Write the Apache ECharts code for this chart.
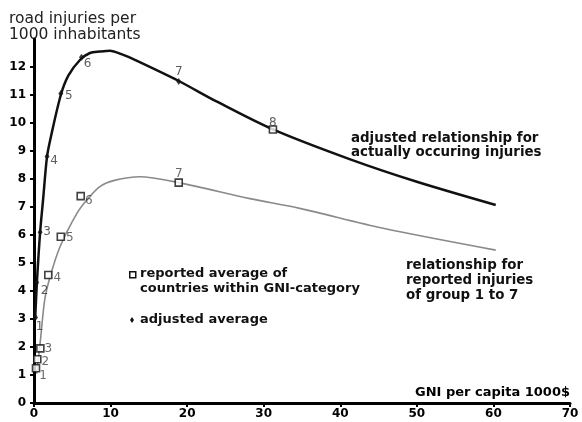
<!DOCTYPE html>
<html>
<head>
<meta charset="utf-8">
<script src="https://cdn.jsdelivr.net/npm/echarts@6/dist/echarts.min.js"></script>
<style>
  html, body { margin: 0; padding: 0; background: #fff; }
  #chart { width: 582px; height: 422px; }
</style>
</head>
<body>
<div id="chart"></div>
<script>
// group averages (GNI per capita in 1000$, injuries per 1000)
const adjustedGNI = [0.2, 0.35, 0.8, 1.7, 3.5, 6.2, 18.9, 31.2];
const adjustedInjuries = [3.05, 4.3, 6.1, 8.8, 11.05, 12.35, 11.48, 9.77];
const adjustedGroups = ['1', '2', '3', '4', '5', '6', '7', '8'];

const reportedGNI = [0.26, 0.43, 0.83, 1.87, 3.5, 6.1, 18.9];
const reportedInjuries = [1.24, 1.56, 1.95, 4.57, 5.94, 7.39, 7.87];
const reportedGroups = ['1', '2', '3', '4', '5', '6', '7'];

// fitted relationships
const adjustedCurveX = [0.15, 0.4, 0.8, 1.2, 1.7, 2.2, 3.5, 4.5, 6, 7.3, 8.6, 9.9, 11.5, 13.6, 18.9, 23.9, 31.2, 41.3, 50, 60.3];
const adjustedCurveY = [3.0, 4.4, 6.1, 7.3, 8.8, 9.5, 11.0, 11.7, 12.25, 12.5, 12.55, 12.58, 12.45, 12.2, 11.5, 10.76, 9.77, 8.7, 7.9, 7.07];
const reportedCurveX = [0.35, 0.8, 1.4, 2.1, 3.4, 5.6, 6.9, 8.6, 10.5, 13.8, 18.9, 28.2, 34.7, 45.6, 60.3];
const reportedCurveY = [1.05, 2.14, 3.68, 4.51, 5.58, 6.77, 7.25, 7.73, 7.95, 8.08, 7.87, 7.3, 6.95, 6.24, 5.46];

const xTicks = [0, 10, 20, 30, 40, 50, 60, 70];
const yTicks = [0, 1, 2, 3, 4, 5, 6, 7, 8, 9, 10, 11, 12];

// where each group number sits next to its marker
const adjustedLabelOffset = [[4, 9], [8, 8], [7, 0], [7, 4], [8, 2], [6, 7], [0, -10], [0, -7]];
const reportedLabelOffset = [[7, 8], [8, 3], [8, 0], [9, 3], [9, 1], [8, 5], [0, -9]];

const FONT = '"DejaVu Sans", sans-serif';

const pair = (xs, ys) => xs.map((x, i) => [x, ys[i]]);

const pointLabel = (offset, color) => ({
  show: true,
  position: 'inside',
  offset: offset,
  color: color,
  fontFamily: FONT,
  fontSize: 12,
  align: 'center',
  verticalAlign: 'middle'
});

const chart = echarts.init(document.getElementById('chart'), null, { renderer: 'canvas' });

const option = {
  animation: false,
  backgroundColor: '#fff',
  grid: { left: 34, right: 12, top: 39, bottom: 19, containLabel: false },
  xAxis: {
    type: 'value',
    min: 0,
    max: 70,
    interval: 10,
    axisLine: { show: true, lineStyle: { color: '#000', width: 3 } },
    axisTick: { show: true, length: 4, lineStyle: { color: '#000', width: 2 }, customValues: xTicks },
    axisLabel: { color: '#000', fontFamily: FONT, fontWeight: 'bold', fontSize: 12, margin: 5, customValues: xTicks },
    splitLine: { show: false }
  },
  yAxis: {
    type: 'value',
    min: 0,
    max: 13,
    interval: 1,
    axisLine: { show: true, lineStyle: { color: '#000', width: 3 } },
    axisTick: { show: true, length: 4, lineStyle: { color: '#000', width: 2 }, customValues: yTicks },
    axisLabel: { color: '#000', fontFamily: FONT, fontWeight: 'bold', fontSize: 12, margin: 8, customValues: yTicks },
    splitLine: { show: false }
  },
  series: [
    {
      type: 'line',
      data: pair(reportedCurveX, reportedCurveY),
      smooth: 0.3,
      showSymbol: false,
      lineStyle: { color: '#8a8a8a', width: 1.6 },
      z: 1
    },
    {
      type: 'line',
      data: pair(adjustedCurveX, adjustedCurveY),
      smooth: 0.3,
      showSymbol: false,
      lineStyle: { color: '#111', width: 2.5 },
      z: 2
    },
    {
      type: 'scatter',
      z: 3,
      data: reportedGNI.map((x, i) => ({
        value: [x, reportedInjuries[i]],
        name: reportedGroups[i],
        label: pointLabel(reportedLabelOffset[i], '#444')
      })),
      symbol: 'rect',
      symbolSize: 7,
      itemStyle: { color: '#fff', borderColor: '#111', borderWidth: 1.6 },
      label: { formatter: p => p.name }
    },
    {
      type: 'scatter',
      z: 4,
      data: adjustedGNI.map((x, i) => {
        const last = i === adjustedGNI.length - 1;
        return {
          value: [x, adjustedInjuries[i]],
          name: adjustedGroups[i],
          symbol: last ? 'rect' : 'diamond',
          symbolSize: last ? 7 : [5, 7],
          itemStyle: last
            ? { color: '#fff', borderColor: '#111', borderWidth: 1.6 }
            : { color: '#111' },
          label: pointLabel(adjustedLabelOffset[i], '#333')
        };
      }),
      label: { formatter: p => p.name }
    }
  ],
  graphic: [
    {
      type: 'text', left: 9, top: 11,
      style: { text: 'road injuries per\n1000 inhabitants', font: '15.5px ' + FONT, fill: '#222', lineHeight: 16 }
    },
    {
      type: 'text', right: 12, top: 386,
      style: { text: 'GNI per capita 1000$', font: 'bold 13px ' + FONT, fill: '#000', align: 'right' }
    },
    {
      type: 'text', left: 351, top: 131,
      style: { text: 'adjusted relationship for\nactually occuring injuries', font: 'bold 13.4px ' + FONT, fill: '#111', lineHeight: 14.5 }
    },
    {
      type: 'text', left: 406, top: 258,
      style: { text: 'relationship for\nreported injuries\nof group 1 to 7', font: 'bold 13.4px ' + FONT, fill: '#111', lineHeight: 15 }
    },
    {
      type: 'rect', left: 129, top: 271,
      shape: { width: 6, height: 6 },
      style: { fill: '#fff', stroke: '#111', lineWidth: 1.5 }
    },
    {
      type: 'text', left: 140, top: 266,
      style: { text: 'reported average of\ncountries within GNI-category', font: 'bold 13px ' + FONT, fill: '#111', lineHeight: 15 }
    },
    {
      type: 'polygon',
      shape: { points: [[132, 317], [134, 320], [132, 323], [130, 320]] },
      style: { fill: '#111' }
    },
    {
      type: 'text', left: 140, top: 313,
      style: { text: 'adjusted average', font: 'bold 13px ' + FONT, fill: '#111' }
    }
  ]
};

chart.setOption(option);
</script>
</body>
</html>
